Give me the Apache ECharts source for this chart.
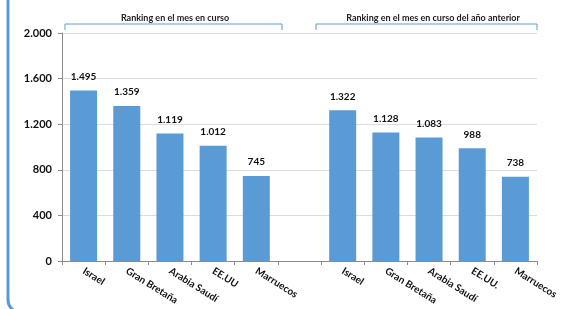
<!DOCTYPE html>
<html>
<head>
<meta charset="utf-8">
<script src="https://cdn.jsdelivr.net/npm/echarts@6/dist/echarts.min.js"></script>
<style>
    html, body { margin: 0; padding: 0; background: #fff; }
    #chart { width: 572px; height: 309px; }
</style>
</head>
<body>
<div id="chart"></div>
<script>
// categorias: mes en curso, hueco, mismo mes del año anterior
const categories = ['Israel', 'Gran Bretaña', 'Arabia Saudí', 'EE.UU', 'Marruecos', '',
    'Israel', 'Gran Bretaña', 'Arabia Saudí', 'EE.UU.', 'Marruecos'];
const values = [1495, 1359, 1119, 1012, 745, '-', 1322, 1128, 1083, 988, 738];
const groupTitles = ['Ranking en el mes en curso', 'Ranking en el mes en curso del año anterior'];
const yTicks = [0, 400, 800, 1200, 1600, 2000];

const FONT = 'Lato';
const BLUE = '#5b9bd5';

// 1.495 -> formato con punto de miles
function fmt(v) {
    return String(v).replace(/\B(?=(\d{3})+(?!\d))/g, '.');
}

const chart = echarts.init(document.getElementById('chart'));

const options = {
    animation: false,
    title: [
        {
            text: groupTitles[0],
            left: 170, top: 9, textAlign: 'center',
            textStyle: { fontFamily: FONT, fontSize: 9, fontWeight: 'bold', color: '#222' }
        },
        {
            text: groupTitles[1],
            left: 428, top: 9, textAlign: 'center',
            textStyle: { fontFamily: FONT, fontSize: 9, fontWeight: 'bold', color: '#222' }
        }
    ],
    grid: { left: 62, right: 35, top: 33, bottom: 48 },
    xAxis: {
        type: 'category',
        data: categories,
        axisLine: { lineStyle: { color: '#8c8c8c' } },
        axisTick: { show: true, length: 4, lineStyle: { color: '#8c8c8c' } },
        axisLabel: {
            interval: 0,
            rotate: -32,
            margin: 9,
            fontFamily: FONT, fontSize: 10, fontWeight: 'bold', color: '#111'
        }
    },
    yAxis: {
        type: 'value',
        min: yTicks[0],
        max: yTicks[yTicks.length - 1],
        interval: yTicks[1] - yTicks[0],
        axisLine: { show: true, lineStyle: { color: '#8c8c8c' } },
        axisTick: { show: true, length: 4, lineStyle: { color: '#8c8c8c' } },
        splitLine: { lineStyle: { color: '#dcdcdc' } },
        axisLabel: {
            margin: 10,
            formatter: v => fmt(v),
            fontFamily: FONT, fontSize: 11, fontWeight: 'bold', color: '#111'
        }
    },
    series: [
        {
            type: 'bar',
            data: values,
            barWidth: 27,
            itemStyle: { color: BLUE },
            label: {
                show: true,
                position: 'top',
                distance: 9,
                formatter: p => fmt(p.value),
                fontFamily: FONT, fontSize: 10, fontWeight: 'bold', color: '#111'
            }
        }
    ],
    graphic: [
        // marco del area del grafico (solo se ve el borde izquierdo)
        {
            type: 'rect', silent: true,
            shape: { x: 8, y: -30, width: 620, height: 342, r: 12 },
            style: { fill: 'none', stroke: BLUE, lineWidth: 3 }
        },
        // llaves de los grupos
        {
            type: 'polyline', silent: true,
            shape: { points: [[65, 30], [65, 24], [282, 24], [282, 30]] },
            style: { fill: 'none', stroke: BLUE, lineWidth: 1 }
        },
        {
            type: 'polyline', silent: true,
            shape: { points: [[316, 30], [316, 24], [537, 24], [537, 30]] },
            style: { fill: 'none', stroke: BLUE, lineWidth: 1 }
        }
    ]
};

chart.setOption(options);
</script>
</body>
</html>
